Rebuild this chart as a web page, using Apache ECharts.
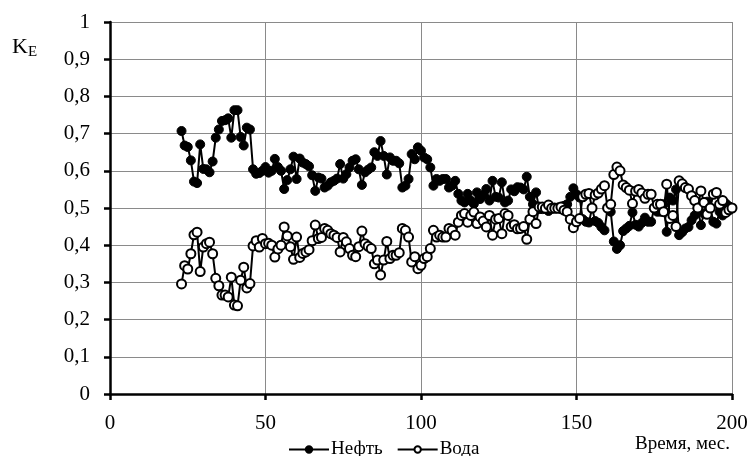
<!DOCTYPE html>
<html>
<head>
<meta charset="utf-8">
<script src="https://cdn.jsdelivr.net/npm/echarts@6/dist/echarts.min.js"></script>
<style>
html,body{margin:0;padding:0;background:#fff;}
#c{width:752px;height:456px;}
</style>
</head>
<body>
<div id="c"></div>
<script>
const months = [23,24,25,26,27,28,29,30,31,32,33,34,35,36,37,38,39,40,41,42,43,44,45,46,47,48,49,50,
51,52,53,54,55,56,57,58,59,60,61,62,63,64,65,66,67,68,69,70,71,72,73,74,75,76,77,78,79,80,81,82,83,84,85,86,87,88,
89,90,91,92,93,94,95,96,97,98,99,100,101,102,103,104,105,106,107,108,109,110,111,112,113,114,115,116,117,118,119,120,121,122,123,
124,125,126,127,128,129,130,131,132,133,134,135,136,137,138,139,140,141,142,143,144,145,146,147,148,149,150,151,152,153,154,155,156,157,158,159,160,161,
162,163,164,165,166,167,168,169,170,171,172,173,174,175,176,177,178,179,180,181,182,183,184,185,186,187,188,189,190,191,192,193,194,195,196,197,198,199,200];

const oil = [0.707,0.668,0.664,0.628,0.571,0.567,0.671,0.605,0.604,0.596,0.625,0.689,0.711,0.734,0.736,0.741,0.689,0.763,0.763,0.691,0.668,0.716,0.711,0.604,0.592,0.594,0.600,0.610,
0.595,0.600,0.632,0.610,0.600,0.551,0.575,0.604,0.638,0.578,0.633,0.622,0.618,0.612,0.588,0.546,0.582,0.579,0.555,0.560,0.569,0.573,0.579,0.618,0.579,0.591,0.609,0.627,0.631,0.604,0.562,0.596,0.603,0.609,0.650,0.640,0.680,0.640,
0.590,0.636,0.627,0.627,0.620,0.555,0.560,0.578,0.645,0.631,0.663,0.654,0.636,0.631,0.609,0.560,0.578,0.573,0.578,0.578,0.555,0.560,0.573,0.538,0.520,0.515,0.538,0.520,0.511,0.542,0.524,0.535,0.551,0.520,0.573,
0.530,0.528,0.569,0.515,0.520,0.550,0.545,0.556,0.555,0.550,0.584,0.530,0.510,0.542,0.497,0.497,0.501,0.492,0.501,0.501,0.501,0.497,0.506,0.510,0.530,0.553,0.537,0.528,0.470,0.463,0.461,0.500,0.465,0.460,0.449,0.440,0.500,0.490,
0.410,0.390,0.400,0.438,0.445,0.452,0.488,0.455,0.450,0.460,0.474,0.463,0.463,0.500,0.490,0.490,0.510,0.436,0.528,0.520,0.550,0.427,0.435,0.445,0.449,0.467,0.480,0.500,0.454,0.485,0.517,0.500,0.463,0.458,0.490,0.480,0.512,0.505,0.500];

const water = [0.296,0.345,0.336,0.377,0.428,0.435,0.329,0.395,0.404,0.408,0.377,0.311,0.291,0.266,0.266,0.261,0.314,0.239,0.237,0.306,0.341,0.285,0.297,0.398,0.412,0.395,0.418,0.404,
0.405,0.400,0.368,0.390,0.400,0.449,0.425,0.396,0.362,0.422,0.367,0.378,0.382,0.388,0.412,0.454,0.418,0.421,0.445,0.440,0.431,0.427,0.421,0.382,0.421,0.409,0.391,0.373,0.369,0.396,0.438,0.404,0.397,0.391,0.350,0.360,0.320,0.360,
0.410,0.364,0.373,0.373,0.380,0.445,0.440,0.422,0.355,0.369,0.337,0.346,0.364,0.369,0.391,0.440,0.422,0.427,0.422,0.422,0.445,0.440,0.427,0.462,0.480,0.485,0.462,0.480,0.489,0.458,0.476,0.465,0.449,0.480,0.427,
0.470,0.472,0.431,0.485,0.480,0.450,0.455,0.444,0.445,0.450,0.416,0.470,0.490,0.458,0.503,0.503,0.499,0.508,0.499,0.499,0.499,0.503,0.494,0.490,0.470,0.447,0.463,0.472,0.530,0.537,0.539,0.500,0.535,0.540,0.551,0.560,0.500,0.510,
0.590,0.610,0.600,0.562,0.555,0.548,0.512,0.545,0.550,0.540,0.526,0.537,0.537,0.500,0.510,0.510,0.490,0.564,0.472,0.480,0.450,0.573,0.565,0.555,0.551,0.533,0.520,0.500,0.546,0.515,0.483,0.500,0.537,0.542,0.510,0.520,0.488,0.495,0.500];

const seriesNames = ['Нефть', 'Вода'];
const xTitle = 'Время, мес.';

const FONT = '"Liberation Serif", "DejaVu Serif", serif';
const chart = echarts.init(document.getElementById('c'), null, {renderer: 'canvas'});

const axisCommon = {
  axisLine: {show: true, lineStyle: {color: '#000', width: 2.5}},
  axisTick: {show: true, inside: false, length: 6, lineStyle: {color: '#000', width: 2.5}},
  splitLine: {show: true, lineStyle: {color: '#8a8a8a', width: 1}},
  axisLabel: {color: '#000', fontFamily: FONT, fontSize: 21}
};

chart.setOption({
  animation: false,
  backgroundColor: '#fff',
  grid: {left: 110, right: 20, top: 22, bottom: 62, containLabel: false},
  xAxis: Object.assign({}, axisCommon, {
    type: 'value', min: 0, max: 200, interval: 50,
    axisLabel: Object.assign({}, axisCommon.axisLabel, {margin: 19})
  }),
  yAxis: Object.assign({}, axisCommon, {
    type: 'value', min: 0, max: 1, interval: 0.1,
    axisLabel: Object.assign({}, axisCommon.axisLabel, {
      margin: 20,
      formatter: function (v) {
        if (Math.abs(v) < 1e-9) return '0';
        if (Math.abs(v - 1) < 1e-9) return '1';
        return v.toFixed(1).replace('.', ',');
      }
    })
  }),
  legend: {
    left: 288, top: 440, padding: 0, itemGap: 14,
    itemWidth: 40, itemHeight: 8,
    textStyle: {color: '#000', fontFamily: FONT, fontSize: 19, padding: [0, 0, 0, -3]},
    data: seriesNames
  },
  graphic: [
    {type: 'text', left: 12, top: 36, style: {
      text: 'K{s|E}', fill: '#000',
      font: '22px ' + FONT,
      rich: {s: {fontSize: 15, fontFamily: FONT, fill: '#000', padding: [10, 0, 0, 0]}}
    }},
    {type: 'text', right: 22, top: 435, style: {text: xTitle, fill: '#000', font: '19px ' + FONT}}
  ],
  series: [
    {
      name: seriesNames[0], type: 'line',
      data: months.map((m, i) => [m, oil[i]]),
      symbol: 'circle', symbolSize: 9, showAllSymbol: true,
      lineStyle: {color: '#000', width: 2},
      itemStyle: {color: '#000', borderColor: '#000', borderWidth: 1}
    },
    {
      name: seriesNames[1], type: 'line',
      data: months.map((m, i) => [m, water[i]]),
      symbol: 'circle', symbolSize: 9, showAllSymbol: true,
      lineStyle: {color: '#000', width: 2},
      itemStyle: {color: '#fff', borderColor: '#000', borderWidth: 2}
    }
  ]
});
</script>
</body>
</html>
